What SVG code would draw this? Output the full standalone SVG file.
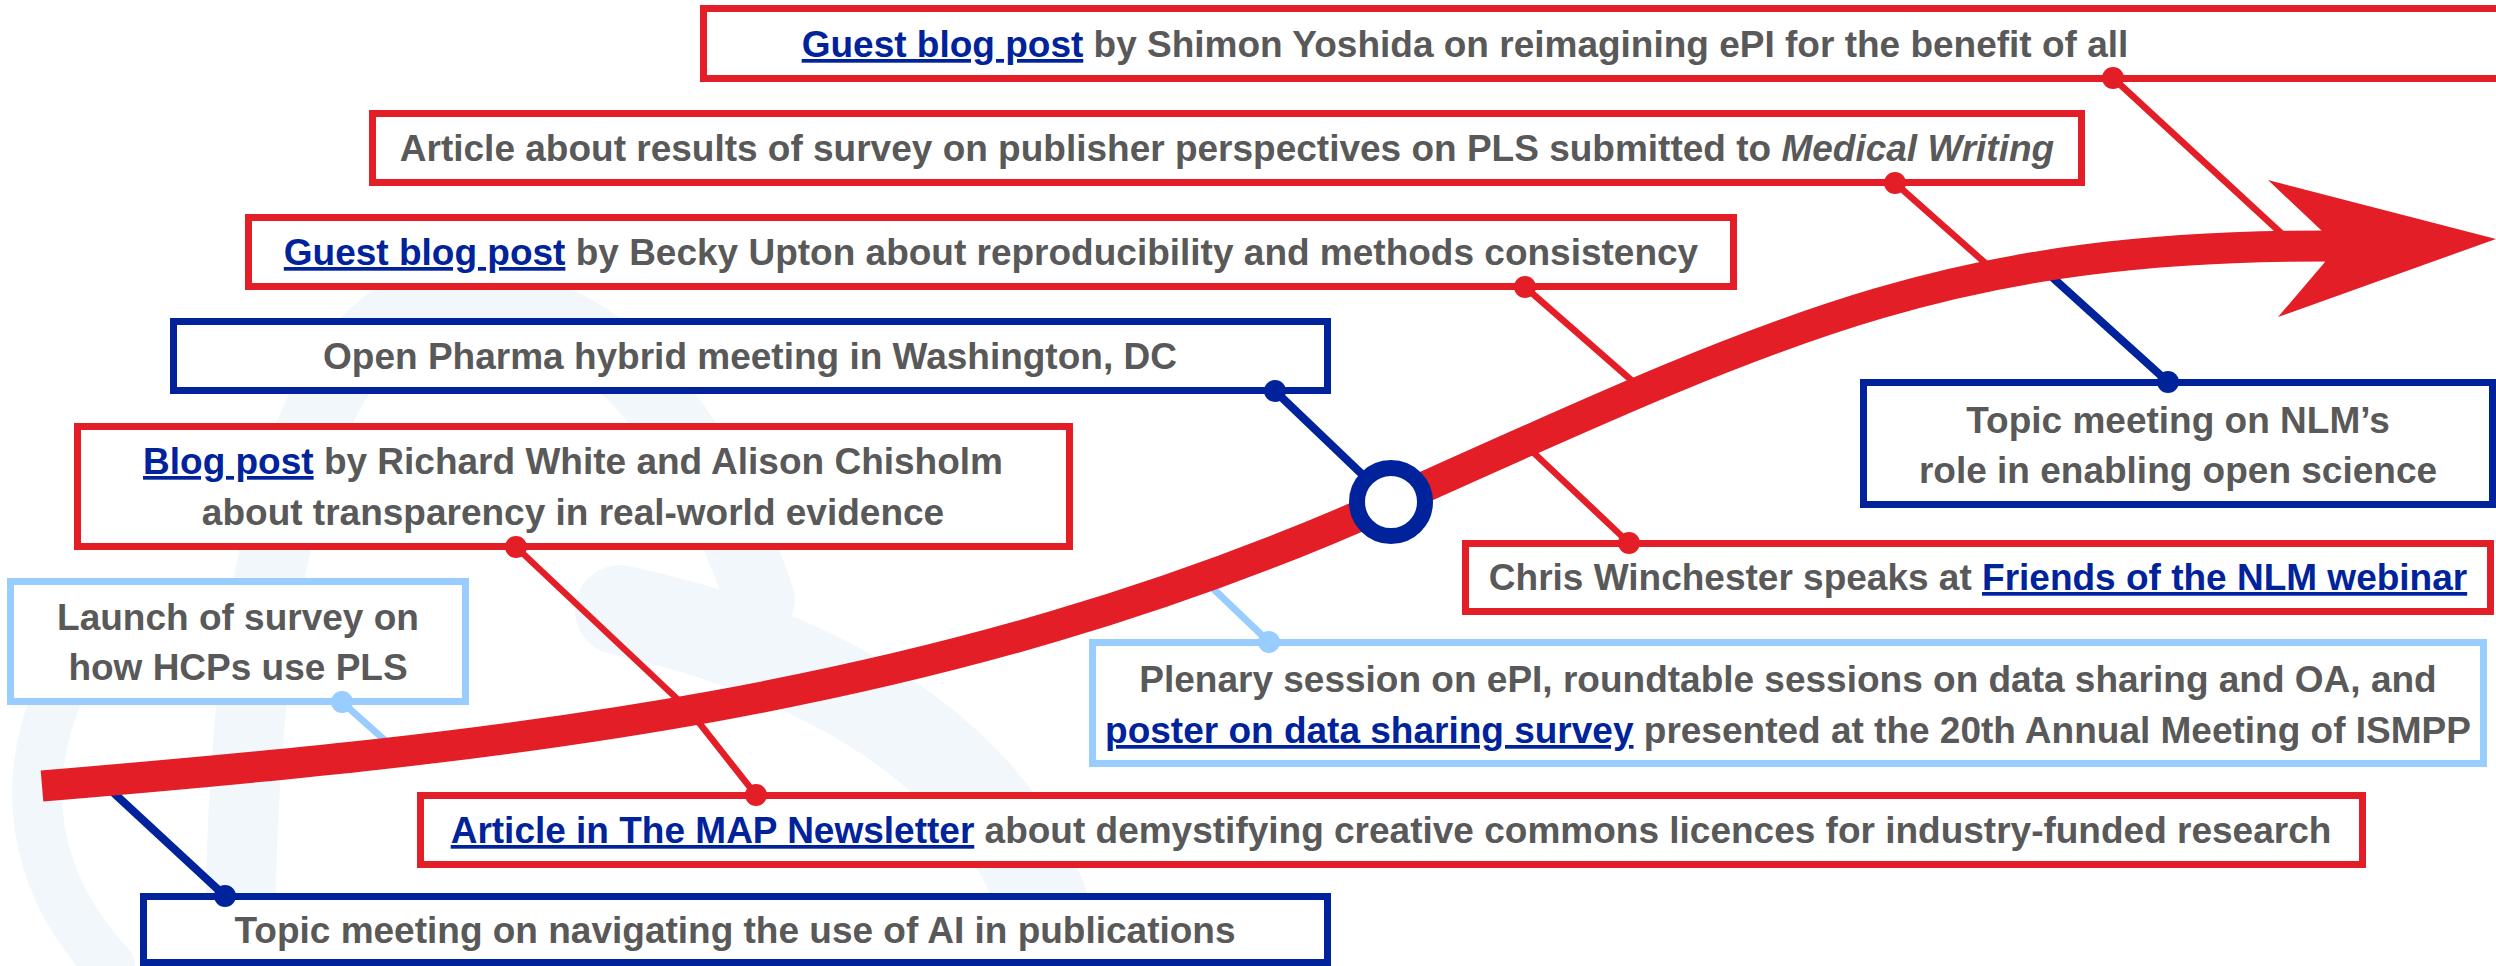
<svg xmlns="http://www.w3.org/2000/svg" width="2496" height="966" viewBox="0 0 2496 966">
<defs>
<style>
.bg{fill:none;stroke:#f2f7fc;stroke-linecap:round}
.box{fill:#ffffff;stroke-width:7}
.red{stroke:#e31e26}
.navy{stroke:#00239c}
.lb{stroke:#99ccff}
.t{font-family:"Liberation Sans",Arial,sans-serif;font-weight:bold;font-size:37px;fill:#595959;text-anchor:middle}
.lk{fill:#00239c;text-decoration:underline}
.it{font-style:italic}
.cr{fill:none;stroke:#e31e26;stroke-width:6.5}
.cn{fill:none;stroke:#00239c;stroke-width:8}
.cl{fill:none;stroke:#99ccff;stroke-width:7}
.dr{fill:#e31e26}
.dn{fill:#00239c}
.dl{fill:#99ccff}
</style>
</defs>
<rect width="2496" height="966" fill="#ffffff"/>
<g id="background">
<path class="bg" d="M 240 966 C 240 700 270 300 460 300 C 600 300 700 420 760 600" stroke-width="70"/>
<path class="bg" d="M 620 610 C 850 660 1030 780 1060 966" stroke-width="90"/>
<path class="bg" d="M 60 690 C 20 780 30 880 110 966" stroke-width="50"/>
</g>
<g id="connectors">
<line class="cr" x1="2113" y1="78" x2="2295" y2="246"/>
<line class="cr" x1="1895" y1="183" x2="2001" y2="277"/>
<line class="cn" x1="2168" y1="382" x2="2042" y2="268"/>
<line class="cr" x1="1525" y1="287" x2="1638" y2="386"/>
<line class="cr" x1="1629" y1="543" x2="1517" y2="437"/>
<line class="cn" x1="1275" y1="391" x2="1391" y2="502"/>
<line class="cl" x1="1269" y1="642" x2="1200" y2="576"/>
<line class="cr" x1="516" y1="547" x2="689" y2="710"/>
<line class="cr" x1="756" y1="795" x2="689" y2="710"/>
<line class="cl" x1="342" y1="702" x2="398" y2="752"/>
<line class="cn" x1="225" y1="896" x2="103" y2="783"/>
</g>
<g id="timeline">
<path d="M 42 786 C 492 748 941 704.5 1391 502 C 1791 322 1950 246 2330 246" fill="none" stroke="#e31e26" stroke-width="31"/>
<polygon points="2322,231 2268,180 2496,239 2278,317 2325,262" fill="#e31e26"/>
<circle id="milestone" cx="1391" cy="502" r="34" fill="#ffffff" stroke="#00239c" stroke-width="16"/>
</g>
<g id="n-shimon">
<rect class="box red" x="703.5" y="8.5" width="2224" height="70"/>
<text class="t" x="1465" y="57"><tspan class="lk">Guest blog post</tspan> by Shimon Yoshida on reimagining ePI for the benefit of all</text>
</g>
<g id="n-medwriting">
<rect class="box red" x="372.5" y="113.5" width="1709" height="69"/>
<text class="t" x="1227" y="161">Article about results of survey on publisher perspectives on PLS submitted to <tspan class="it">Medical Writing</tspan></text>
</g>
<g id="n-becky">
<rect class="box red" x="248.5" y="217.5" width="1485" height="69"/>
<text class="t" x="991" y="265"><tspan class="lk">Guest blog post</tspan> by Becky Upton about reproducibility and methods consistency</text>
</g>
<g id="n-openpharma">
<rect class="box navy" x="173.5" y="321.5" width="1154" height="69"/>
<text class="t" x="750" y="369">Open Pharma hybrid meeting in Washington, DC</text>
</g>
<g id="n-richard">
<rect class="box red" x="77.5" y="426.5" width="992" height="120"/>
<text class="t" x="573" y="474"><tspan class="lk">Blog post</tspan> by Richard White and Alison Chisholm</text>
<text class="t" x="573" y="525">about transparency in real-world evidence</text>
</g>
<g id="n-launch">
<rect class="box lb" x="10.5" y="581.5" width="455" height="120" stroke-width="6"/>
<text class="t" x="238" y="630">Launch of survey on</text>
<text class="t" x="238" y="680">how HCPs use PLS</text>
</g>
<g id="n-ai">
<rect class="box navy" x="143.5" y="896.5" width="1184" height="66"/>
<text class="t" x="735" y="943">Topic meeting on navigating the use of AI in publications</text>
</g>
<g id="n-map">
<rect class="box red" x="420.5" y="795.5" width="1942" height="69"/>
<text class="t" x="1391" y="843"><tspan class="lk">Article in The MAP Newsletter</tspan> about demystifying creative commons licences for industry-funded research</text>
</g>
<g id="n-plenary">
<rect class="box lb" x="1092.5" y="642.5" width="1391" height="121" stroke-width="6"/>
<text class="t" x="1788" y="692">Plenary session on ePI, roundtable sessions on data sharing and OA, and</text>
<text class="t" x="1788" y="743"><tspan class="lk">poster on data sharing survey</tspan> presented at the 20th Annual Meeting of ISMPP</text>
</g>
<g id="n-chris">
<rect class="box red" x="1465.5" y="543.5" width="1025" height="68"/>
<text class="t" x="1978" y="590">Chris Winchester speaks at <tspan class="lk">Friends of the NLM webinar</tspan></text>
</g>
<g id="n-nlm">
<rect class="box navy" x="1863.5" y="382.5" width="629" height="122"/>
<text class="t" x="2178" y="433">Topic meeting on NLM’s</text>
<text class="t" x="2178" y="483">role in enabling open science</text>
</g>
<g id="dots">
<circle class="dr" cx="2113" cy="78" r="11"/>
<circle class="dr" cx="1895" cy="183" r="11"/>
<circle class="dn" cx="2168" cy="382" r="11"/>
<circle class="dr" cx="1525" cy="287" r="11"/>
<circle class="dr" cx="1629" cy="543" r="11"/>
<circle class="dn" cx="1275" cy="391" r="11"/>
<circle class="dl" cx="1269" cy="642" r="11"/>
<circle class="dr" cx="516" cy="547" r="11"/>
<circle class="dr" cx="756" cy="795" r="11"/>
<circle class="dl" cx="342" cy="702" r="11"/>
<circle class="dn" cx="225" cy="896" r="11"/>
</g>
</svg>
